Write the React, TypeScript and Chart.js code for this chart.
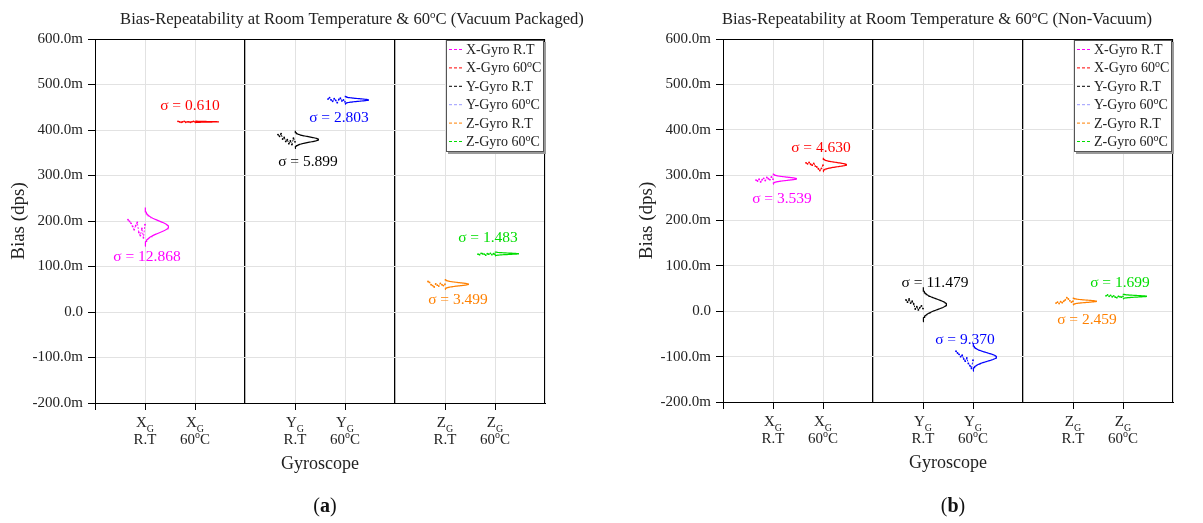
import { useEffect, useRef } from 'react';
import { Chart, registerables } from 'chart.js';

Chart.register(...registerables);

const FONT = '"Liberation Serif", "Times New Roman", serif';

// Gyroscope groups along the x axis (two columns per gyro, separated by dividers at 3 and 6)
const gyroPositions = [1, 2, 4, 5, 7, 8];
const gyroTickLabels = ['X_G|R.T', 'X_G|60ºC', 'Y_G|R.T', 'Y_G|60ºC', 'Z_G|R.T', 'Z_G|60ºC'];
const seriesNames = ['X-Gyro R.T', 'X-Gyro 60ºC', 'Y-Gyro R.T', 'Y-Gyro 60ºC', 'Z-Gyro R.T', 'Z-Gyro 60ºC'];
const seriesColors = ['#ff00ff', '#ff0000', '#000000', '#0000ff', '#ff8000', '#00dd00'];
const legendColors = ['#ff00ff', '#ff0000', '#000000', '#9a9aff', '#ff8000', '#00dd00'];
const yTickValues = [-200, -100, 0, 100, 200, 300, 400, 500, 600];

// (a) Vacuum packaged — bias in mdps
const vacMean = [187, 418, 379, 466, 61, 128];
const vacSigma = [12.868, 0.61, 5.899, 2.803, 3.499, 1.483];
const vacXRT = [203, 199, 195, 188, 181, 190, 197, 175, 168, 184, 163, 192];
const vacX60 = [419, 418, 417, 418, 419, 417, 418, 418, 417, 418, 419, 418];
const vacYRT = [390, 386, 392, 380, 384, 375, 379, 370, 376, 368, 382, 374];
const vacY60 = [468, 471, 466, 463, 469, 465, 460, 467, 470, 464, 466, 462];
const vacZRT = [67, 65, 60, 58, 55, 62, 59, 57, 63, 60, 58, 61];
const vacZ60 = [127, 126, 129, 128, 127, 125, 128, 127, 129, 126, 128, 127];

// (b) Non-vacuum — bias in mdps
const nonMean = [292, 323, 15, -101, 22, 33];
const nonSigma = [3.539, 4.63, 11.479, 9.37, 2.459, 1.699];
const nonXRT = [289, 287, 291, 285, 290, 293, 288, 295, 292, 290, 296, 291];
const nonX60 = [327, 325, 328, 324, 322, 326, 320, 318, 314, 310, 315, 322];
const nonYRT = [25, 20, 27, 18, 22, 16, 5, 10, 3, 8, 12, 6];
const nonY60 = [-88, -92, -95, -100, -97, -105, -110, -103, -115, -120, -126, -108];
const nonZRT = [18, 20, 17, 21, 19, 22, 25, 30, 27, 23, 20, 22];
const nonZ60 = [34, 36, 33, 35, 32, 34, 31, 30, 33, 32, 31, 33];

const SAMPLE_SPREAD = 0.34; // horizontal room for the raw samples left of each column
const CURVE_PEAK = 0.47; // width of the fitted normal curve to the right of each column
const CURVE_SPAN = 3.3; // curve drawn over mean ± this many sigma

type Seg = { t: string; k: 'n' | 'sub' | 'sup' };

function parseRich(s: string): Seg[] {
  const out: Seg[] = [];
  let buf = '';
  for (let i = 0; i < s.length; i++) {
    const c = s[i];
    if (c === '_' && i + 1 < s.length) {
      if (buf) out.push({ t: buf, k: 'n' });
      buf = '';
      out.push({ t: s[i + 1], k: 'sub' });
      i++;
    } else if (c === 'º') {
      if (buf) out.push({ t: buf, k: 'n' });
      buf = '';
      out.push({ t: 'o', k: 'sup' });
    } else {
      buf += c;
    }
  }
  if (buf) out.push({ t: buf, k: 'n' });
  return out;
}

function drawRich(
  ctx: CanvasRenderingContext2D,
  s: string,
  x: number,
  y: number,
  size: number,
  align: 'left' | 'center',
  color: string,
  weight = 'normal'
) {
  const segs = parseRich(s);
  const fontFor = (k: Seg['k']) =>
    `${weight} ${k === 'n' ? size : Math.round(size * 0.68)}px ${FONT}`;
  let w = 0;
  for (const seg of segs) {
    ctx.font = fontFor(seg.k);
    w += ctx.measureText(seg.t).width;
  }
  let cx = align === 'center' ? x - w / 2 : x;
  ctx.textAlign = 'left';
  ctx.textBaseline = 'alphabetic';
  ctx.fillStyle = color;
  for (const seg of segs) {
    ctx.font = fontFor(seg.k);
    const dy = seg.k === 'sub' ? size * 0.3 : seg.k === 'sup' ? -size * 0.38 : 0;
    ctx.fillText(seg.t, cx, y + dy);
    cx += ctx.measureText(seg.t).width;
  }
}

type Panel = {
  title: string;
  letter: string;
  means: number[];
  sigmas: number[];
  samples: number[][];
  labelAt: [number, number][];
  left: number;
  width: number;
  plotLeft: number;
  plotRight: number;
  plotTop: number;
  plotBottom: number;
  titleX: number;
};

const HEIGHT = 523;

const panels: Panel[] = [
  {
    title: 'Bias-Repeatability at Room Temperature & 60ºC (Vacuum Packaged)',
    letter: 'a',
    means: vacMean,
    sigmas: vacSigma,
    samples: [vacXRT, vacX60, vacYRT, vacY60, vacZRT, vacZ60],
    labelAt: [
      [1.04, 125],
      [1.9, 455],
      [4.26, 334],
      [4.88, 429],
      [7.26, 29],
      [7.86, 167],
    ],
    left: 0,
    width: 600,
    plotLeft: 95,
    plotRight: 545,
    plotTop: 39,
    plotBottom: 403,
    titleX: 352,
  },
  {
    title: 'Bias-Repeatability at Room Temperature & 60ºC (Non-Vacuum)',
    letter: 'b',
    means: nonMean,
    sigmas: nonSigma,
    samples: [nonXRT, nonX60, nonYRT, nonY60, nonZRT, nonZ60],
    labelAt: [
      [1.18, 251],
      [1.96, 363],
      [4.24, 66],
      [4.84, -59],
      [7.28, -15],
      [7.94, 66],
    ],
    left: 600,
    width: 603,
    plotLeft: 123,
    plotRight: 573,
    plotTop: 39,
    plotBottom: 402,
    titleX: 337,
  },
];

function buildDatasets(p: Panel) {
  const datasets: any[] = [];
  p.samples.forEach((vals, i) => {
    const xc = gyroPositions[i];
    const color = seriesColors[i];
    const n = vals.length;
    datasets.push({
      data: vals.map((v, j) => ({ x: xc - SAMPLE_SPREAD + (SAMPLE_SPREAD * j) / (n - 1), y: v })),
      borderColor: color,
      backgroundColor: color,
      borderWidth: 0.9,
      borderDash: [2, 1.5],
      pointRadius: 0.9,
      pointBorderWidth: 0,
      showLine: true,
    });
    const mean = p.means[i];
    const sigma = p.sigmas[i];
    const steps = 80;
    const curve: { x: number; y: number }[] = [];
    for (let j = 0; j <= steps; j++) {
      const z = -CURVE_SPAN + (2 * CURVE_SPAN * j) / steps;
      curve.push({ x: xc + CURVE_PEAK * Math.exp((-z * z) / 2), y: mean + z * sigma });
    }
    datasets.push({
      data: curve,
      borderColor: color,
      backgroundColor: color,
      borderWidth: 1.2,
      pointRadius: 0,
      showLine: true,
      fill: false,
    });
  });
  return datasets;
}

function PanelChart({ p }: { p: Panel }) {
  const ref = useRef<HTMLCanvasElement | null>(null);

  useEffect(() => {
    const canvas = ref.current;
    if (!canvas) return;

    const decor = {
      id: 'decor',
      afterDatasetsDraw(chart: any) {
        const ctx: CanvasRenderingContext2D = chart.ctx;
        const xs = chart.scales.x;
        const ys = chart.scales.y;
        const a = chart.chartArea;
        ctx.save();

        // sigma annotations
        p.labelAt.forEach(([lx, ly], i) => {
          const px = xs.getPixelForValue(lx);
          const py = ys.getPixelForValue(ly);
          drawRich(ctx, `σ = ${p.sigmas[i].toFixed(3)}`, px, py + 5.5, 15.5, 'center', seriesColors[i]);
        });

        // frame
        ctx.strokeStyle = '#000';
        ctx.lineWidth = 1;
        ctx.strokeRect(a.left + 0.5, a.top + 0.5, a.right - a.left - 1, a.bottom - a.top);

        // legend box
        const bw = 98;
        const bh = 112;
        const bx = a.right - bw - 1;
        const by = a.top + 1;
        ctx.fillStyle = '#9a9a9a';
        ctx.fillRect(bx + 2, by + 2, bw, bh);
        ctx.fillStyle = '#fff';
        ctx.fillRect(bx, by, bw, bh);
        ctx.strokeStyle = '#555';
        ctx.lineWidth = 1;
        ctx.strokeRect(bx + 0.5, by + 0.5, bw - 1, bh - 1);
        seriesNames.forEach((name, i) => {
          const ey = by + 9 + i * 18.4;
          ctx.strokeStyle = legendColors[i];
          ctx.lineWidth = 1;
          ctx.setLineDash([3, 2]);
          ctx.beginPath();
          ctx.moveTo(bx + 3, ey + 0.5);
          ctx.lineTo(bx + 17, ey + 0.5);
          ctx.stroke();
          ctx.setLineDash([]);
          drawRich(ctx, name, bx + 20, ey + 5, 14, 'left', '#222');
        });

        // x tick labels
        gyroPositions.forEach((v, i) => {
          const px = xs.getPixelForValue(v);
          const [top, bottom] = gyroTickLabels[i].split('|');
          drawRich(ctx, top, px, a.bottom + 24, 15, 'center', '#222');
          drawRich(ctx, bottom, px, a.bottom + 41, 15, 'center', '#222');
        });

        // axis titles
        drawRich(ctx, 'Gyroscope', (a.left + a.right) / 2, a.bottom + 66, 18, 'center', '#222');
        ctx.save();
        ctx.translate(p.plotLeft - 77, (a.top + a.bottom) / 2);
        ctx.rotate(-Math.PI / 2);
        drawRich(ctx, 'Bias (dps)', 0, 6, 19, 'center', '#222');
        ctx.restore();

        // chart title
        drawRich(ctx, p.title, p.titleX, 24, 16.6, 'center', '#222');

        // panel letter
        ctx.font = `20px ${FONT}`;
        const lw = ctx.measureText('(').width;
        ctx.font = `bold 20px ${FONT}`;
        const mw = ctx.measureText(p.letter).width;
        const cxl = (a.left + a.right) / 2 + 5;
        const start = cxl - (2 * lw + mw) / 2;
        ctx.fillStyle = '#111';
        ctx.textAlign = 'left';
        ctx.textBaseline = 'alphabetic';
        ctx.font = `20px ${FONT}`;
        ctx.fillText('(', start, 512);
        ctx.font = `bold 20px ${FONT}`;
        ctx.fillText(p.letter, start + lw, 512);
        ctx.font = `20px ${FONT}`;
        ctx.fillText(')', start + lw + mw, 512);

        ctx.restore();
      },
    };

    const chart = new Chart(canvas, {
      type: 'scatter',
      data: { datasets: buildDatasets(p) },
      options: {
        responsive: false,
        animation: false,
        events: [],
        layout: {
          padding: { top: p.plotTop, right: p.width - p.plotRight, left: 0, bottom: 0 },
        },
        plugins: {
          legend: { display: false },
          tooltip: { enabled: false },
          title: { display: false },
        },
        scales: {
          x: {
            type: 'linear',
            min: 0,
            max: 9,
            ticks: { stepSize: 1, display: false },
            border: { display: true, color: '#000', width: 1 },
            grid: {
              drawTicks: true,
              tickLength: 7,
              color: (c: any) => {
                const v = c.tick ? c.tick.value : -1;
                if (v === 3 || v === 6) return '#000';
                return '#e2e2e2';
              },
              lineWidth: (c: any) => {
                const v = c.tick ? c.tick.value : -1;
                return v === 3 || v === 6 ? 1.3 : 1;
              },
              tickColor: (c: any) => {
                const v = c.tick ? c.tick.value : -1;
                return v === 3 || v === 6 || v === 9 ? 'rgba(0,0,0,0)' : '#000';
              },
            },
            afterFit: (s: any) => {
              s.height = HEIGHT - p.plotBottom;
            },
          },
          y: {
            type: 'linear',
            min: -200,
            max: 600,
            afterBuildTicks: (s: any) => {
              s.ticks = yTickValues.map((v) => ({ value: v }));
            },
            ticks: {
              padding: 5,
              color: '#222',
              font: { family: FONT, size: 15 },
              callback: (v: any) => (Number(v) === 0 ? '0.0' : `${Number(v).toFixed(1)}m`),
            },
            border: { display: true, color: '#000', width: 1 },
            grid: {
              color: '#e2e2e2',
              tickColor: '#000',
              tickLength: 7,
            },
            afterFit: (s: any) => {
              s.width = p.plotLeft;
            },
          },
        },
      },
      plugins: [decor],
    });

    return () => chart.destroy();
  }, [p]);

  return (
    <div style={{ position: 'absolute', left: p.left, top: 0, width: p.width, height: HEIGHT }}>
      <canvas ref={ref} width={p.width} height={HEIGHT} style={{ display: 'block' }} />
    </div>
  );
}

export default function App() {
  return (
    <div
      style={{
        position: 'absolute',
        left: 0,
        top: 0,
        width: 1203,
        height: HEIGHT,
        background: '#fff',
        overflow: 'hidden',
      }}
    >
      {panels.map((p) => (
        <PanelChart key={p.letter} p={p} />
      ))}
    </div>
  );
}
